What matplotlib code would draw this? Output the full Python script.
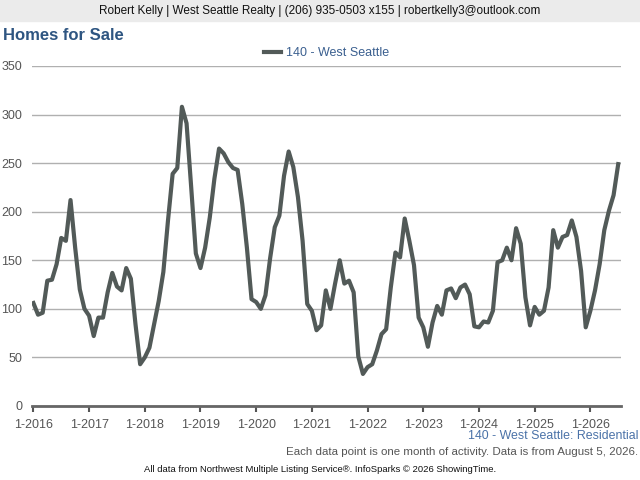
import numpy as np
import pandas as pd
import matplotlib
matplotlib.use("Agg")
import matplotlib.pyplot as plt

plt.rcParams['font.family'] = ['Liberation Sans', 'DejaVu Sans']

# monthly homes for sale, 140 - West Seattle, Jan 2016 .. Jul 2026
y2016 = [106, 94, 96, 129, 130, 146, 173, 170, 212, 163, 120, 100]
y2017 = [93, 72, 91, 91, 117, 137, 123, 119, 142, 131, 84, 43]
y2018 = [50, 60, 84, 108, 138, 191, 239, 245, 308, 291, 225, 157]
y2019 = [142, 163, 194, 234, 265, 260, 251, 245, 243, 208, 163, 110]
y2020 = [107, 100, 114, 152, 184, 196, 237, 262, 246, 215, 170, 105]
y2021 = [98, 78, 83, 119, 100, 126, 150, 126, 129, 117, 51, 33]
y2022 = [40, 43, 57, 74, 79, 122, 158, 153, 193, 170, 145, 91]
y2023 = [81, 61, 86, 103, 94, 119, 121, 111, 122, 125, 115, 82]
y2024 = [81, 87, 86, 98, 148, 150, 163, 150, 183, 167, 112, 83]
y2025 = [102, 94, 98, 122, 181, 163, 174, 176, 191, 174, 139, 81]
y2026 = [98, 119, 146, 181, 201, 217, 249]

values = y2016 + y2017 + y2018 + y2019 + y2020 + y2021 + y2022 + y2023 + y2024 + y2025 + y2026
months = pd.date_range("2016-01-01", periods=len(values), freq="MS")
years = list(range(2016, 2027))
series_name = "140 - West Seattle"

fig = plt.figure(figsize=(6.4, 4.8), dpi=100)

# header band
fig.patches.append(plt.Rectangle((0, 1 - 21 / 480), 1, 21 / 480, transform=fig.transFigure,
                                 color="#ebebeb", zorder=0))
fig.text(0.5, 1 - 11 / 480, "Robert Kelly | West Seattle Realty | (206) 935-0503 x155 | robertkelly3@outlook.com",
         ha="center", va="center", fontsize=8.5, color="#111111")
fig.text(3 / 640, 1 - 35 / 480, "Homes for Sale", ha="left", va="center", fontsize=12,
         fontweight="bold", color="#2e5581")

ax = fig.add_axes([32 / 640, 74 / 480, 589 / 640, 340 / 480])
x = np.arange(len(values))
ax.plot(x, values, color="#525a58", lw=3, solid_joinstyle="round", label=series_name)

ax.set_ylim(0, 350)
ax.set_xlim(-0.3, len(values) - 1 + 0.6)
ax.set_yticks(range(0, 351, 50))
ax.set_xticks([months.get_loc(pd.Timestamp(f"{yr}-01-01")) for yr in years])
ax.set_xticklabels([f"1-{yr}" for yr in years])
ax.tick_params(axis="y", length=0, labelsize=9, colors="#555555", pad=7)
ax.tick_params(axis="x", length=4, width=1.5, direction="out", labelsize=9, colors="#555555", pad=5)
ax.grid(axis="y", color="#b0b0b0", lw=1)
ax.set_axisbelow(True)
for s in ["top", "right", "left"]:
    ax.spines[s].set_visible(False)
ax.spines["bottom"].set_color("#666666")
ax.spines["bottom"].set_linewidth(2)

leg = ax.legend(loc="center", bbox_to_anchor=(0.5, (480 - 53 - 74) / 340), frameon=False,
                fontsize=9, handlelength=1.3, handletextpad=0.4)
for t in leg.get_texts():
    t.set_color("#3a5f8f")

fig.text(638 / 640, 1 - 436 / 480, "140 - West Seattle: Residential", ha="right", va="center",
         fontsize=8.9, color="#4a72a8")
fig.text(638 / 640, 1 - 452 / 480, "Each data point is one month of activity. Data is from August 5, 2026.",
         ha="right", va="center", fontsize=8.25, color="#555555")
fig.text(0.5, 1 - 470 / 480, "All data from Northwest Multiple Listing Service\u00ae. InfoSparks \u00a9 2026 ShowingTime.",
         ha="center", va="center", fontsize=6.8, color="#111111")

fig.savefig("out.png", dpi=100)
